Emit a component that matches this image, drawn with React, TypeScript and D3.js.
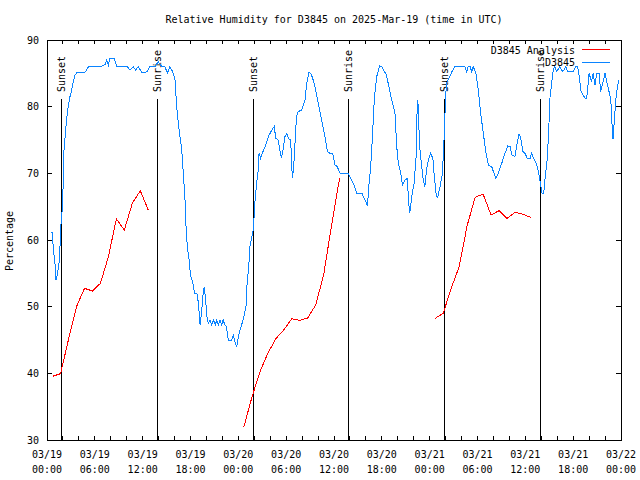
import * as d3 from "d3";

// hours after 2025-03-19 00:00 UTC
const obsHours = [
  0.46, 0.67, 0.8, 1.0, 1.13, 1.3, 1.5, 1.63, 1.76, 1.97, 2.05, 2.13, 2.38, 2.55, 2.67, 2.88, 3.1, 3.3, 3.5, 3.8,
  4.77, 5.2, 6.65, 7.28, 7.5, 7.7, 7.9, 8.4, 8.74, 10.0, 10.4, 10.8, 11.1, 11.45, 11.9, 12.5, 12.9, 13.55, 13.96,
  14.4, 14.8, 15.1, 15.4, 15.77, 16.06, 16.27, 16.47, 16.9, 17.1, 17.3, 17.4, 17.6, 17.8, 18.0, 18.3, 18.5, 18.8,
  19.0, 19.2, 19.4, 19.6, 19.73, 19.9, 20.03, 20.24, 20.45, 20.66, 20.9, 21.1, 21.3, 21.5, 21.7, 21.9, 22.1, 22.3,
  22.5, 22.75, 23.17, 23.37, 23.58, 23.8, 24.0, 24.2, 24.6, 24.96, 25.1, 25.3, 25.46, 25.7, 25.88, 26.0, 26.1,
  26.3, 26.5, 26.6, 26.8, 27.0, 27.35, 27.76, 28.2, 28.5, 28.7, 29.0, 29.2, 29.4, 29.6, 29.85, 30.07, 30.27, 30.57,
  30.7, 30.8, 31.0, 31.2, 31.3, 31.5, 31.95, 32.15, 32.36, 32.58, 32.87, 33.08, 33.33, 33.6, 34.03, 34.45, 34.87,
  35.17, 35.5, 35.84, 36.13, 36.4, 36.67, 36.8, 37.8, 38.2, 38.6, 38.85, 39.5, 39.9, 40.2, 40.4, 40.6, 40.8, 41.06,
  41.36, 41.7, 42.0, 42.3, 42.5, 42.8, 43.24, 43.65, 43.87, 44.07, 44.37, 44.6, 44.9, 45.2, 45.37, 45.5, 45.75,
  46.04, 46.3, 46.45, 46.6, 46.7, 47.0, 47.2, 47.4, 47.6, 47.83, 48.1, 48.4, 48.55, 48.8, 48.97, 49.3, 49.6, 49.8,
  49.97, 50.1, 50.5, 50.8, 51.2, 52.4, 52.65, 52.85, 53.05, 53.27, 53.47, 53.8, 54.1, 54.4, 54.73, 55.07, 55.36,
  55.78, 56.07, 56.3, 56.6, 57.04, 57.45, 57.8, 58.1, 58.3, 58.7, 58.9, 59.2, 59.4, 59.7, 59.96, 60.25, 60.6, 60.8,
  61.0, 61.3, 61.5, 61.75, 61.95, 62.1, 62.3, 62.5, 62.7, 62.9, 63.1, 63.3, 63.5, 63.7, 63.95, 64.3, 64.7, 65.1,
  65.3, 66.0, 66.3, 66.55, 66.7, 67.0, 67.5, 67.7, 68.0, 68.3, 68.5, 68.74, 68.95, 69.25, 69.45, 69.7, 70.0, 70.25,
  70.6, 70.8, 70.9, 71.0, 71.2, 71.4, 71.7,
];
const obsValues = [
  61.1, 61.1, 58.5, 56.5, 54.0, 54.8, 56.5, 59, 62.5, 65.5, 70, 73.5, 77, 79, 80, 81.5, 82.5, 83.75, 84.75, 85.15,
  85.15, 86, 86, 86.3, 87, 86.25, 87.3, 87.3, 86.1, 86.1, 85.5, 86, 85.5, 86, 85.15, 85.2, 86, 86, 86.75,
  86, 86, 85, 86, 85.25, 84, 80, 77.5, 73.5, 70, 66.5, 62.75, 59, 57.25, 54.75, 53.5, 52, 52,
  50.5, 47.25, 49.25, 52.25, 53, 51, 48.75, 47.5, 48, 47.25, 48, 47.25, 48, 47.3, 48, 47.25, 48, 47.3,
  47, 45, 45, 45.75, 44.75, 44, 45.5, 46.5, 48, 50, 53.5, 56, 59, 60.5, 61.5, 64, 66,
  68.5, 70.5, 73, 72.25, 73, 74, 75.5, 76.5, 77, 75.25, 75, 73.5, 72.25, 73.5, 75.5, 76, 75.25, 75,
  71, 69.25, 72, 76.5, 78.5, 79.25, 79.5, 80.25, 81, 83.5, 85.15, 85, 84.25, 83, 80.5, 78, 75.5,
  73.25, 73, 73, 71.25, 71, 70.25, 70, 70, 69, 68, 67, 67, 66, 65.1, 68.5, 71, 75, 81.25,
  84.5, 86.1, 86, 85.25, 85, 83.5, 81, 79, 74, 71.5, 70, 68.25, 69, 69.25, 65.5, 64, 66.5,
  68.5, 72.5, 81, 80, 74.5, 71, 69, 68, 70.5, 72, 73, 72.25, 70, 67, 66.25, 68, 70, 75,
  80.5, 83.5, 84.5, 85.25, 86.1, 86.1, 85.25, 86.1, 86.1, 85.25, 86, 85, 82.5, 79, 76, 73, 71.25,
  71, 70, 69.25, 70, 71.5, 73, 74.1, 74, 72.75, 72.5, 74, 75.9, 75.5, 73.25, 73, 72.25, 72.25, 73.1,
  72.25, 71.75, 71, 69.5, 68, 67, 67, 69.5, 71.5, 75.5, 81.5, 83.5, 85.5, 86, 85.25, 86, 85.25, 86,
  85.25, 85.25, 86, 86, 85, 82.25, 81.25, 81.25, 85, 83.75, 85, 83.25, 85, 85, 82.25, 83.5, 85, 83.5,
  81.75, 80, 76.5, 75.1, 78.5, 81.75, 84,
];

const anaHours1 = [0.7, 1.7, 2.7, 3.7, 4.7, 5.7, 6.7, 7.7, 8.7, 9.7, 10.7, 11.7, 12.7];
const anaValues1 = [39.55, 39.95, 45.1, 50.0, 52.75, 52.35, 53.5, 57.5, 63.15, 61.5, 65.5, 67.4, 64.5];
const anaHours2 = [24.7, 25.7, 26.7, 27.7, 28.7, 29.7, 30.7, 31.7, 32.7, 33.7, 34.7, 35.7, 36.7];
const anaValues2 = [32.0, 36.4, 40.2, 43.0, 45.2, 46.5, 48.2, 47.95, 48.3, 50.25, 54.75, 62.25, 69.25];
const anaHours3 = [48.7, 49.7, 50.7, 51.7, 52.7, 53.7, 54.7, 55.7, 56.7, 57.7, 58.7, 59.7, 60.7];
const anaValues3 = [48.25, 49.0, 52.75, 56.0, 62.15, 66.4, 66.9, 63.75, 64.4, 63.25, 64.15, 63.85, 63.4];

const sunLabels = ["Sunset", "Sunrise", "Sunset", "Sunrise", "Sunset", "Sunrise"];
const sunHours = [1.88, 13.82, 25.86, 37.86, 49.9, 61.95];

const yTicks = [30, 40, 50, 60, 70, 80, 90];

const base = Date.UTC(2025, 2, 19, 0, 0);
const toDate = (h: number) => new Date(base + h * 3600e3);

const W = 640;
const H = 480;
const left = 47;
const right = 621;
const top = 40;
const bottom = 440;
const font = "'DejaVu Sans Mono', monospace";
const blue = "#0a84ff";
const red = "#ff0000";

export default function App() {
  const x = d3.scaleUtc().domain([toDate(0), toDate(72)]).range([left, right]);
  const y = d3.scaleLinear().domain([30, 90]).range([bottom, top]);

  const line = d3
    .line<[number, number]>()
    .x((d) => x(toDate(d[0])))
    .y((d) => y(d[1]));

  const obs = obsHours.map((h, i) => [h, obsValues[i]] as [number, number]);
  const ana = [
    [anaHours1, anaValues1],
    [anaHours2, anaValues2],
    [anaHours3, anaValues3],
  ].map(([hs, vs]) => hs.map((h, i) => [h, vs[i]] as [number, number]));

  const minor = x.ticks(d3.utcHour.every(2)!);
  const major = x.ticks(d3.utcHour.every(6)!);
  const fmtDay = d3.utcFormat("%m/%d");
  const fmtTime = d3.utcFormat("%H:%M");

  return (
    <svg
      width={W}
      height={H}
      style={{ position: "absolute", left: 0, top: 0, background: "#fff" }}
      fontFamily={font}
      fontSize={10}
    >
      <rect width={W} height={H} fill="#fff" />
      <text x={(left + right) / 2} y={23} textAnchor="middle">
        Relative Humidity for D3845 on 2025-Mar-19 (time in UTC)
      </text>

      {/* axes ticks */}
      <g stroke="#000" shapeRendering="crispEdges">
        {minor.map((t, i) => (
          <g key={i}>
            <line x1={x(t)} x2={x(t)} y1={bottom} y2={bottom - 4} />
            <line x1={x(t)} x2={x(t)} y1={top} y2={top + 4} />
          </g>
        ))}
        {yTicks.map((v) => (
          <g key={v}>
            <line x1={left} x2={left + 5} y1={y(v)} y2={y(v)} />
            <line x1={right} x2={right - 5} y1={y(v)} y2={y(v)} />
          </g>
        ))}
      </g>

      {yTicks.map((v) => (
        <text key={v} x={39} y={y(v) + 3.5} textAnchor="end">
          {v}
        </text>
      ))}
      {major.map((t, i) => (
        <g key={i}>
          <text x={x(t)} y={457.5} textAnchor="middle">
            {fmtDay(t)}
          </text>
          <text x={x(t)} y={472.5} textAnchor="middle">
            {fmtTime(t)}
          </text>
        </g>
      ))}
      <text transform="translate(13,241) rotate(-90)" textAnchor="middle">
        Percentage
      </text>

      {/* sunrise / sunset markers */}
      {sunHours.map((h, i) => (
        <g key={i}>
          <line
            x1={x(toDate(h))}
            x2={x(toDate(h))}
            y1={99}
            y2={bottom}
            stroke="#000"
            shapeRendering="crispEdges"
          />
          <text transform={`translate(${x(toDate(h))},92) rotate(-90)`} dy="0.35em">
            {sunLabels[i]}
          </text>
        </g>
      ))}

      {ana.map((seg, i) => (
        <path
          key={i}
          d={line(seg) ?? ""}
          fill="none"
          stroke={red}
          strokeWidth={1}
          shapeRendering="crispEdges"
        />
      ))}
      <path d={line(obs) ?? ""} fill="none" stroke={blue} strokeWidth={1} shapeRendering="crispEdges" />

      {/* legend */}
      <text x={575} y={53.5} textAnchor="end">
        D3845 Analysis
      </text>
      <line x1={582} x2={610} y1={49.5} y2={49.5} stroke={red} shapeRendering="crispEdges" />
      <text x={575} y={66} textAnchor="end">
        D3845
      </text>
      <line x1={582} x2={610} y1={62.5} y2={62.5} stroke={blue} shapeRendering="crispEdges" />

      <rect
        x={left}
        y={top}
        width={right - left}
        height={bottom - top}
        fill="none"
        stroke="#000"
        shapeRendering="crispEdges"
      />
    </svg>
  );
}
